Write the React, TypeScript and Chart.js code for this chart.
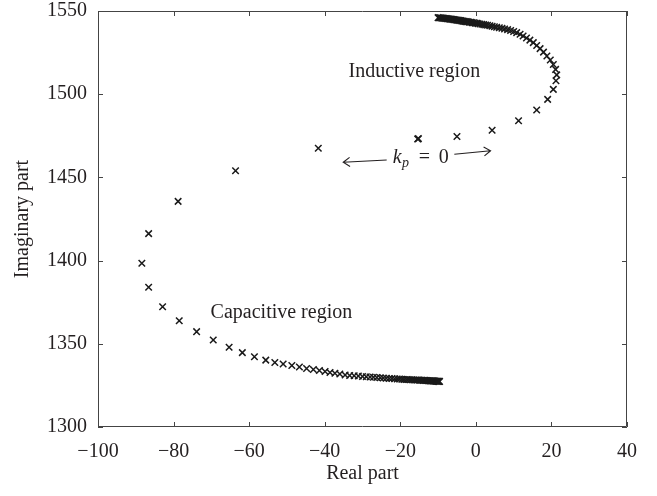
import React, { useEffect, useRef } from 'react';
import { Chart, registerables } from 'chart.js';

Chart.register(...registerables);

// Branch through the capacitive region (from k_p = 0 towards the bottom)
const lowerX = [
  -41.7, -63.6, -78.8, -86.6, -88.4, -86.6, -82.9, -78.5, -73.9, -69.5,
  -65.3, -61.8, -58.6, -55.6, -53.2, -51.0, -48.7, -46.7, -44.8, -43.0,
  -41.4, -39.9, -38.6, -37.3, -36.0, -34.6, -33.4, -32.2, -31.1, -30.0,
  -29.0, -28.0, -27.1, -26.2, -25.3, -24.5, -23.7, -22.9, -22.2, -21.5,
  -20.8, -20.2, -19.6, -19.0, -18.4, -17.9, -17.4, -16.9, -16.4, -15.9,
  -15.5, -15.1, -14.7, -14.3, -13.9, -13.5, -13.2, -12.9, -12.6, -12.3,
  -12.0, -11.7, -11.4, -11.2, -11.0, -10.8, -10.6, -10.4, -10.2, -10.0,
  -9.8, -9.6,
];
const lowerY = [
  1467.5, 1454.0, 1435.6, 1416.2, 1398.4, 1384.0, 1372.3, 1363.9, 1357.3, 1352.3,
  1347.9, 1344.7, 1342.2, 1340.2, 1338.8, 1337.9, 1337.0, 1336.1, 1335.2, 1334.6,
  1334.0, 1333.4, 1332.8, 1332.3, 1331.9, 1331.3, 1331.0, 1330.8, 1330.6, 1330.4,
  1330.2, 1330.0, 1329.9, 1329.7, 1329.6, 1329.4, 1329.3, 1329.2, 1329.1, 1329.0,
  1328.9, 1328.8, 1328.7, 1328.6, 1328.6, 1328.5, 1328.4, 1328.4, 1328.3, 1328.3,
  1328.2, 1328.2, 1328.1, 1328.1, 1328.0, 1328.0, 1327.9, 1327.9, 1327.8, 1327.8,
  1327.7, 1327.7, 1327.7, 1327.6, 1327.6, 1327.6, 1327.5, 1327.5, 1327.5, 1327.4,
  1327.4, 1327.4,
];

// Branch through the inductive region (from k_p = 0 towards the top)
const upperX = [
  -15.4, -15.2, -5.0, 4.3, 11.3, 16.1, 19.0, 20.5, 21.2, 21.4,
  21.1, 20.5, 19.7, 18.8, 17.9, 17.0, 16.1, 15.2, 14.3, 13.4,
  12.5, 11.7, 10.8, 10.0, 9.2, 8.4, 7.6, 6.9, 6.2, 5.5,
  4.9, 4.3, 3.7, 3.1, 2.6, 2.1, 1.6, 1.1, 0.6, 0.2,
  -0.2, -0.6, -1.0, -1.4, -1.8, -2.2, -2.5, -2.8, -3.1, -3.4,
  -3.7, -4.0, -4.3, -4.6, -4.9, -5.2, -5.5, -5.8, -6.1, -6.4,
  -6.7, -7.0, -7.3, -7.6, -7.9, -8.2, -8.5, -8.8, -9.1, -9.4,
  -9.7, -10.0,
];
const upperY = [
  1473.1, 1473.3, 1474.6, 1478.3, 1484.0, 1490.5, 1496.9, 1502.9, 1508.1, 1511.6,
  1514.9, 1517.8, 1520.5, 1523.0, 1525.3, 1527.4, 1529.3, 1531.0, 1532.5, 1533.8,
  1535.0, 1536.0, 1537.0, 1537.7, 1538.3, 1538.8, 1539.2, 1539.6, 1539.9, 1540.2,
  1540.5, 1540.8, 1541.1, 1541.4, 1541.6, 1541.8, 1542.0, 1542.2, 1542.4, 1542.6,
  1542.7, 1542.9, 1543.0, 1543.2, 1543.3, 1543.5, 1543.6, 1543.7, 1543.8, 1543.9,
  1544.0, 1544.2, 1544.3, 1544.4, 1544.5, 1544.6, 1544.7, 1544.8, 1544.9, 1545.0,
  1545.1, 1545.2, 1545.3, 1545.4, 1545.5, 1545.5, 1545.6, 1545.7, 1545.8, 1545.9,
  1545.9, 1546.0,
];

const xTicks = [-100, -80, -60, -40, -20, 0, 20, 40];
const yTicks = [1300, 1350, 1400, 1450, 1500, 1550];

const xTitle = 'Real part';
const yTitle = 'Imaginary part';
const inductiveLabel = 'Inductive region';
const capacitiveLabel = 'Capacitive region';

const FONT = "'Liberation Serif', 'Times New Roman', serif";
const INK = '#231f20';

const toPoints = (xs: number[], ys: number[]) => xs.map((x, i) => ({ x, y: ys[i] }));

const framePlugin = {
  id: 'frame',
  afterDraw(chart: any) {
    const { ctx, chartArea } = chart;
    const { left, right, top, bottom } = chartArea;
    const xs = chart.scales.x;
    const ys = chart.scales.y;
    ctx.save();
    ctx.strokeStyle = '#444';
    ctx.lineWidth = 1;
    ctx.beginPath();
    ctx.rect(left + 0.5, top + 0.5, right - left - 1, bottom - top - 1);
    const tl = 5;
    xTicks.forEach((v) => {
      const px = Math.round(xs.getPixelForValue(v)) + 0.5;
      ctx.moveTo(px, bottom);
      ctx.lineTo(px, bottom - tl);
      ctx.moveTo(px, top);
      ctx.lineTo(px, top + tl);
    });
    yTicks.forEach((v) => {
      const py = Math.round(ys.getPixelForValue(v)) + 0.5;
      ctx.moveTo(left, py);
      ctx.lineTo(left + tl, py);
      ctx.moveTo(right, py);
      ctx.lineTo(right - tl, py);
    });
    ctx.stroke();
    ctx.restore();
  },
};

const annotationPlugin = {
  id: 'annot',
  afterDatasetsDraw(chart: any) {
    const { ctx } = chart;
    const xs = chart.scales.x;
    const ys = chart.scales.y;
    const P = (x: number, y: number) => [xs.getPixelForValue(x), ys.getPixelForValue(y)];
    ctx.save();
    ctx.fillStyle = INK;
    ctx.textBaseline = 'alphabetic';
    ctx.textAlign = 'left';
    ctx.font = `20px ${FONT}`;
    const [ix, iy] = P(-33.7, 1510.2);
    ctx.fillText(inductiveLabel, ix, iy);
    const [cx, cy] = P(-70.2, 1365.3);
    ctx.fillText(capacitiveLabel, cx, cy);

    // k_p = 0
    const [kx, ky] = P(-22.0, 1458.5);
    ctx.font = `italic 20px ${FONT}`;
    ctx.fillText('k', kx, ky);
    const kw = ctx.measureText('k').width;
    ctx.font = `italic 14px ${FONT}`;
    ctx.fillText('p', kx + kw + 0.5, ky + 4);
    ctx.font = `20px ${FONT}`;
    ctx.fillText('=', kx + 26, ky);
    ctx.fillText('0', kx + 46, ky);

    // arrows
    ctx.strokeStyle = INK;
    ctx.lineWidth = 1.1;
    const arrow = (x0: number, y0: number, x1: number, y1: number) => {
      const [ax, ay] = P(x0, y0);
      const [bx, by] = P(x1, y1);
      ctx.beginPath();
      ctx.moveTo(ax, ay);
      ctx.lineTo(bx, by);
      const ang = Math.atan2(by - ay, bx - ax);
      const hl = 8;
      const spread = 0.6;
      ctx.moveTo(bx - hl * Math.cos(ang - spread), by - hl * Math.sin(ang - spread));
      ctx.lineTo(bx, by);
      ctx.lineTo(bx - hl * Math.cos(ang + spread), by - hl * Math.sin(ang + spread));
      ctx.stroke();
    };
    arrow(-23.6, 1460.5, -35.1, 1459.1);
    arrow(-5.7, 1463.9, 3.9, 1466.0);
    ctx.restore();
  },
};

export default function App() {
  const ref = useRef<HTMLCanvasElement | null>(null);

  useEffect(() => {
    if (!ref.current) return;
    const fmt = (v: number) => String(v).replace('-', '\u2212');
    const chart = new Chart(ref.current, {
      type: 'scatter',
      data: {
        datasets: [
          {
            label: 'inductive',
            data: toPoints(upperX, upperY),
            pointStyle: 'crossRot',
            pointRadius: 4.6,
            pointBorderWidth: 1.5,
            borderColor: '#1a1a1a',
            backgroundColor: '#1a1a1a',
            showLine: false,
          },
          {
            label: 'capacitive',
            data: toPoints(lowerX, lowerY),
            pointStyle: 'crossRot',
            pointRadius: 4.6,
            pointBorderWidth: 1.5,
            borderColor: '#1a1a1a',
            backgroundColor: '#1a1a1a',
            showLine: false,
          },
        ],
      },
      options: {
        responsive: false,
        animation: false,
        devicePixelRatio: 1,
        layout: { padding: { left: 0, right: 30, top: 11, bottom: 0 } },
        plugins: {
          legend: { display: false },
          tooltip: { enabled: false },
        },
        scales: {
          x: {
            type: 'linear',
            min: -100,
            max: 40,
            afterBuildTicks: (s: any) => {
              s.ticks = xTicks.map((v) => ({ value: v }));
            },
            afterFit: (s: any) => {
              s.height = 69;
              s.paddingLeft = 0;
              s.paddingRight = 0;
            },
            grid: { display: false, drawTicks: false },
            border: { display: false },
            ticks: {
              color: INK,
              font: { family: FONT, size: 20 },
              padding: 13,
              maxRotation: 0,
              callback: (v: any) => fmt(Number(v)),
            },
            title: {
              display: true,
              text: xTitle,
              color: INK,
              font: { family: FONT, size: 20 },
              padding: { top: 0, bottom: 10 },
            },
          },
          y: {
            type: 'linear',
            min: 1300,
            max: 1550,
            afterBuildTicks: (s: any) => {
              s.ticks = yTicks.map((v) => ({ value: v }));
            },
            afterFit: (s: any) => {
              s.width = 98;
              s.paddingTop = 0;
              s.paddingBottom = 0;
            },
            grid: { display: false, drawTicks: false },
            border: { display: false },
            ticks: {
              color: INK,
              font: { family: FONT, size: 20 },
              padding: 11,
              callback: (v: any) => fmt(Number(v)),
            },
            title: {
              display: true,
              text: yTitle,
              color: INK,
              font: { family: FONT, size: 20 },
              padding: { top: 11, bottom: 0 },
            },
          },
        },
      },
      plugins: [framePlugin, annotationPlugin],
    } as any);
    return () => chart.destroy();
  }, []);

  return (
    <div style={{ position: 'absolute', left: 0, top: 0, width: 657, height: 496, background: '#fff' }}>
      <canvas ref={ref} width={657} height={496} style={{ width: 657, height: 496, display: 'block' }} />
    </div>
  );
}
